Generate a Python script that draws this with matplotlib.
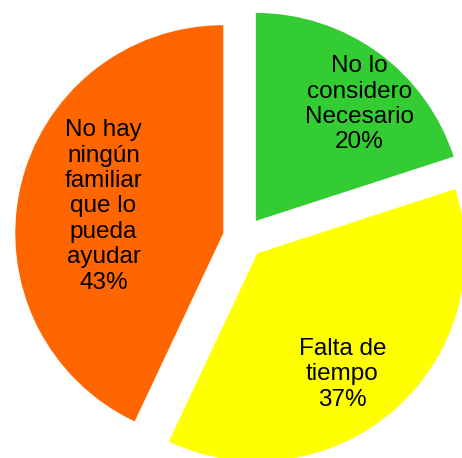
import numpy as np
import matplotlib
matplotlib.use("Agg")
import matplotlib.pyplot as plt

# Data
categories = ["No lo\nconsidero\nNecesario", "Falta de\ntiempo", "No hay\nningún\nfamiliar\nque lo\npueda\nayudar"]
percents = [20, 37, 43]
colors = ["#33CC33", "#FFFF00", "#FF6600"]

# label placement (radius fraction, angle tweak in degrees)
label_r = [0.85, 0.81, 0.69]
label_dtheta = [-5.0, -5.5, 0.0]

fig = plt.figure(figsize=(4.62, 4.58), dpi=100)
ax = fig.add_axes([0, 0, 1, 1])

wedges, _ = ax.pie(
    percents, colors=colors, startangle=90, counterclock=False,
    explode=[0.1] * len(percents), radius=1.0,
    wedgeprops=dict(linewidth=0, antialiased=True),
)

for w, cat, pct, r, dt in zip(wedges, categories, percents, label_r, label_dtheta):
    mid = np.deg2rad((w.theta1 + w.theta2) / 2 + dt)
    ax.text(r * np.cos(mid), r * np.sin(mid), f"{cat}\n{pct}%",
            ha="center", va="center", fontsize=17.5, family="Liberation Sans",
            linespacing=1.2, color="black")

ax.set_xlim(-1.171, 1.050)
ax.set_ylim(-1.059, 1.143)
ax.set_aspect("auto")
ax.axis("off")

fig.savefig("out.png", dpi=100, facecolor="white")
